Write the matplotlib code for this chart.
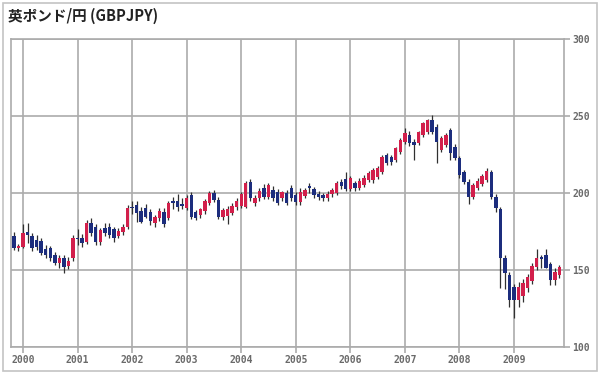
#!/usr/bin/python
# -*- encoding: utf-8 -*-
# GBPJPY monthly candles, Nov 1999 - Nov 2009
import numpy as np
import matplotlib
matplotlib.use("Agg")
from matplotlib import pyplot as plt
from matplotlib.patches import Rectangle

title = "英ポンド/円 (GBPJPY)"
years = ["2000", "2001", "2002", "2003", "2004", "2005", "2006", "2007", "2008", "2009"]
yticks = [100, 150, 200, 250, 300]

# monthly OHLC, first candle = 1999-11
opens = [172.0, 164.0, 165.0, 174.5, 172.0, 169.5, 169.0, 163.5, 164.0, 160.0, 154.5, 158.0,
         152.5, 157.5, 171.0, 171.0, 168.0, 180.5, 178.0, 168.5, 177.0, 178.0, 176.5, 172.0,
         174.5, 178.0, 191.0, 192.0, 188.0, 190.5, 187.5, 180.5, 184.0, 187.5, 184.0, 194.5,
         195.0, 193.0, 190.5, 198.5, 187.5, 185.5, 188.0, 193.5, 200.0, 195.5, 184.5, 185.0,
         187.0, 191.0, 191.5, 191.0, 207.0, 193.5, 197.0, 203.5, 197.5, 202.0, 200.5, 197.0,
         200.0, 203.0, 198.5, 194.0, 198.0, 204.5, 202.5, 199.5, 198.5, 196.5, 199.5, 200.0,
         207.0, 209.0, 202.5, 206.5, 203.5, 205.5, 208.5, 208.5, 210.5, 213.5, 224.5, 223.5,
         221.5, 226.5, 233.0, 237.5, 233.0, 232.5, 237.5, 239.5, 247.5, 243.0, 228.0, 231.0,
         241.0, 230.0, 222.5, 213.5, 207.0, 197.5, 203.5, 206.0, 208.5, 213.5, 197.5, 189.5,
         158.0, 147.0, 139.0, 130.5, 133.0, 138.5, 143.0, 152.0, 158.5, 160.0, 154.0, 143.5,
         147.0]
highs = [174.5, 167.0, 180.0, 180.5, 174.0, 172.5, 171.0, 166.0, 165.5, 162.0, 159.5, 159.5,
         158.5, 173.0, 176.5, 173.5, 182.5, 183.5, 180.0, 177.5, 180.5, 180.5, 178.0, 177.5,
         180.0, 192.0, 194.5, 194.5, 191.0, 193.0, 189.5, 186.0, 190.0, 190.0, 195.0, 197.5,
         199.5, 196.5, 199.0, 200.5, 189.0, 190.0, 196.0, 201.0, 202.0, 197.5, 190.5, 191.5,
         193.5, 196.5, 200.5, 208.0, 209.0, 198.5, 203.5, 206.0, 206.5, 204.5, 202.5, 201.5,
         202.0, 205.5, 200.5, 203.0, 203.5, 206.5, 204.0, 201.0, 200.0, 201.5, 203.5, 207.5,
         209.0, 213.5, 211.0, 208.0, 209.5, 211.5, 214.5, 216.0, 217.5, 224.5, 226.0, 225.0,
         230.0, 235.5, 242.0, 240.0, 235.0, 240.5, 246.0, 248.0, 250.8, 244.5, 237.0, 239.0,
         242.5, 232.0, 224.0, 215.0, 209.0, 206.5, 209.5, 212.5, 216.5, 215.0, 199.5, 191.0,
         160.0, 149.0, 141.0, 142.5, 144.0, 147.5, 154.5, 163.5, 159.5, 163.5, 155.0, 151.0,
         153.0]
lows = [163.0, 162.5, 164.0, 167.5, 162.5, 163.0, 159.5, 157.5, 156.0, 153.0, 151.0, 148.0,
        150.5, 156.0, 166.5, 165.0, 167.0, 172.0, 166.5, 166.5, 172.0, 171.0, 168.0, 170.5,
        172.5, 176.5, 186.5, 181.0, 180.5, 183.5, 179.5, 178.0, 182.0, 178.0, 182.5, 189.5,
        188.5, 189.5, 189.0, 183.0, 182.5, 183.5, 186.5, 192.0, 194.0, 183.0, 182.5, 180.0,
        185.5, 189.0, 190.0, 190.0, 195.0, 191.5, 195.0, 196.0, 196.0, 195.0, 192.0, 195.0,
        192.0, 195.0, 192.0, 192.0, 196.5, 200.0, 196.5, 195.5, 195.0, 195.0, 197.5, 199.0,
        202.5, 201.0, 201.0, 201.5, 202.0, 204.0, 207.0, 206.5, 209.0, 212.5, 218.0, 218.5,
        220.0, 225.5, 231.5, 230.5, 221.5, 231.0, 236.5, 238.5, 238.0, 219.5, 226.5, 230.0,
        221.5, 221.5, 210.0, 206.0, 193.0, 196.0, 202.0, 204.5, 207.0, 196.0, 187.5, 138.0,
        137.5, 126.0, 118.8, 126.0, 129.5, 136.0, 141.0, 150.0, 151.0, 151.0, 140.0, 140.0,
        144.5]
closes = [164.5, 165.5, 174.0, 172.5, 164.0, 165.0, 161.0, 159.5, 158.0, 154.5, 158.0, 152.0,
          156.0, 171.0, 170.0, 167.5, 180.5, 174.0, 168.5, 176.0, 174.0, 172.5, 171.0, 175.5,
          178.0, 190.5, 190.0, 187.0, 181.0, 184.5, 181.5, 184.5, 188.0, 180.0, 193.5, 193.5,
          191.0, 191.5, 197.0, 184.5, 184.0, 189.5, 195.0, 200.0, 195.5, 184.5, 189.0, 189.5,
          191.5, 195.0, 199.5, 206.5, 197.0, 197.0, 201.5, 197.5, 205.0, 197.0, 193.5, 200.5,
          193.5, 196.5, 194.0, 200.5, 202.0, 203.0, 198.5, 197.5, 196.5, 199.5, 202.0, 206.5,
          204.5, 202.5, 209.5, 203.5, 208.0, 210.0, 213.0, 215.0, 216.0, 223.5, 219.5, 220.0,
          229.0, 234.5, 239.0, 232.5, 231.0, 239.5, 245.5, 247.5, 239.5, 233.0, 235.5, 237.5,
          226.0, 222.5, 211.5, 207.0, 197.5, 205.5, 208.0, 211.0, 214.5, 197.5, 190.5, 158.0,
          148.0, 130.5, 130.5, 139.0, 141.5, 145.5, 152.5, 157.5, 157.0, 151.5, 143.5, 148.5,
          152.0]

up_color = "#d21f4b"
down_color = "#1c2d7d"
grid_color = "#ababab"
text_color = "#6a6a6a"

o = np.array(opens)
h = np.array(highs)
l = np.array(lows)
c = np.array(closes)
x = np.arange(len(o))
colors = [up_color if cc >= oo else down_color for oo, cc in zip(o, c)]

fig = plt.figure(figsize=(6.0, 3.74), dpi=100)
ax = fig.add_axes([11 / 600, 1 - 347 / 374, 553 / 600, 308 / 374])

# outer frame of the widget
fig.patches.append(Rectangle((3 / 600, 3 / 374), 594 / 600, 368 / 374, transform=fig.transFigure,
                             fill=False, edgecolor="#c4c4c4", linewidth=1.2))
fig.text(8 / 600, 1 - 16 / 374, title, ha="left", va="center", fontsize=10.5, weight="bold",
         color="#222222", family=["Noto Sans CJK JP", "DejaVu Sans"])

# candles
ax.vlines(x, l, h, color="#303030", linewidth=0.9, zorder=3)
body_h = np.maximum(np.abs(c - o), 0.6)
ax.bar(x, body_h, bottom=np.minimum(o, c), width=0.75, color=colors, linewidth=0, zorder=4)

year_pos = [2 + 12 * k for k in range(len(years))]
ax.set_xlim(-0.64, 121.0)
ax.set_ylim(100, 300)
ax.set_xticks(year_pos)
ax.set_xticklabels(years)
ax.set_yticks(yticks)
ax.yaxis.tick_right()
ax.grid(True, color=grid_color, linewidth=1.2, zorder=1)
ax.tick_params(axis="both", colors=grid_color, labelcolor=text_color, labelsize=7, length=4, width=1.2)
ax.tick_params(axis="y", pad=2)
ax.tick_params(axis="x", pad=2)
for lab in ax.get_xticklabels() + ax.get_yticklabels():
    lab.set_family("DejaVu Sans Mono")
    lab.set_weight("bold")
for s in ax.spines.values():
    s.set_color(grid_color)
    s.set_linewidth(1.2)

fig.savefig("out.png", dpi=100)
